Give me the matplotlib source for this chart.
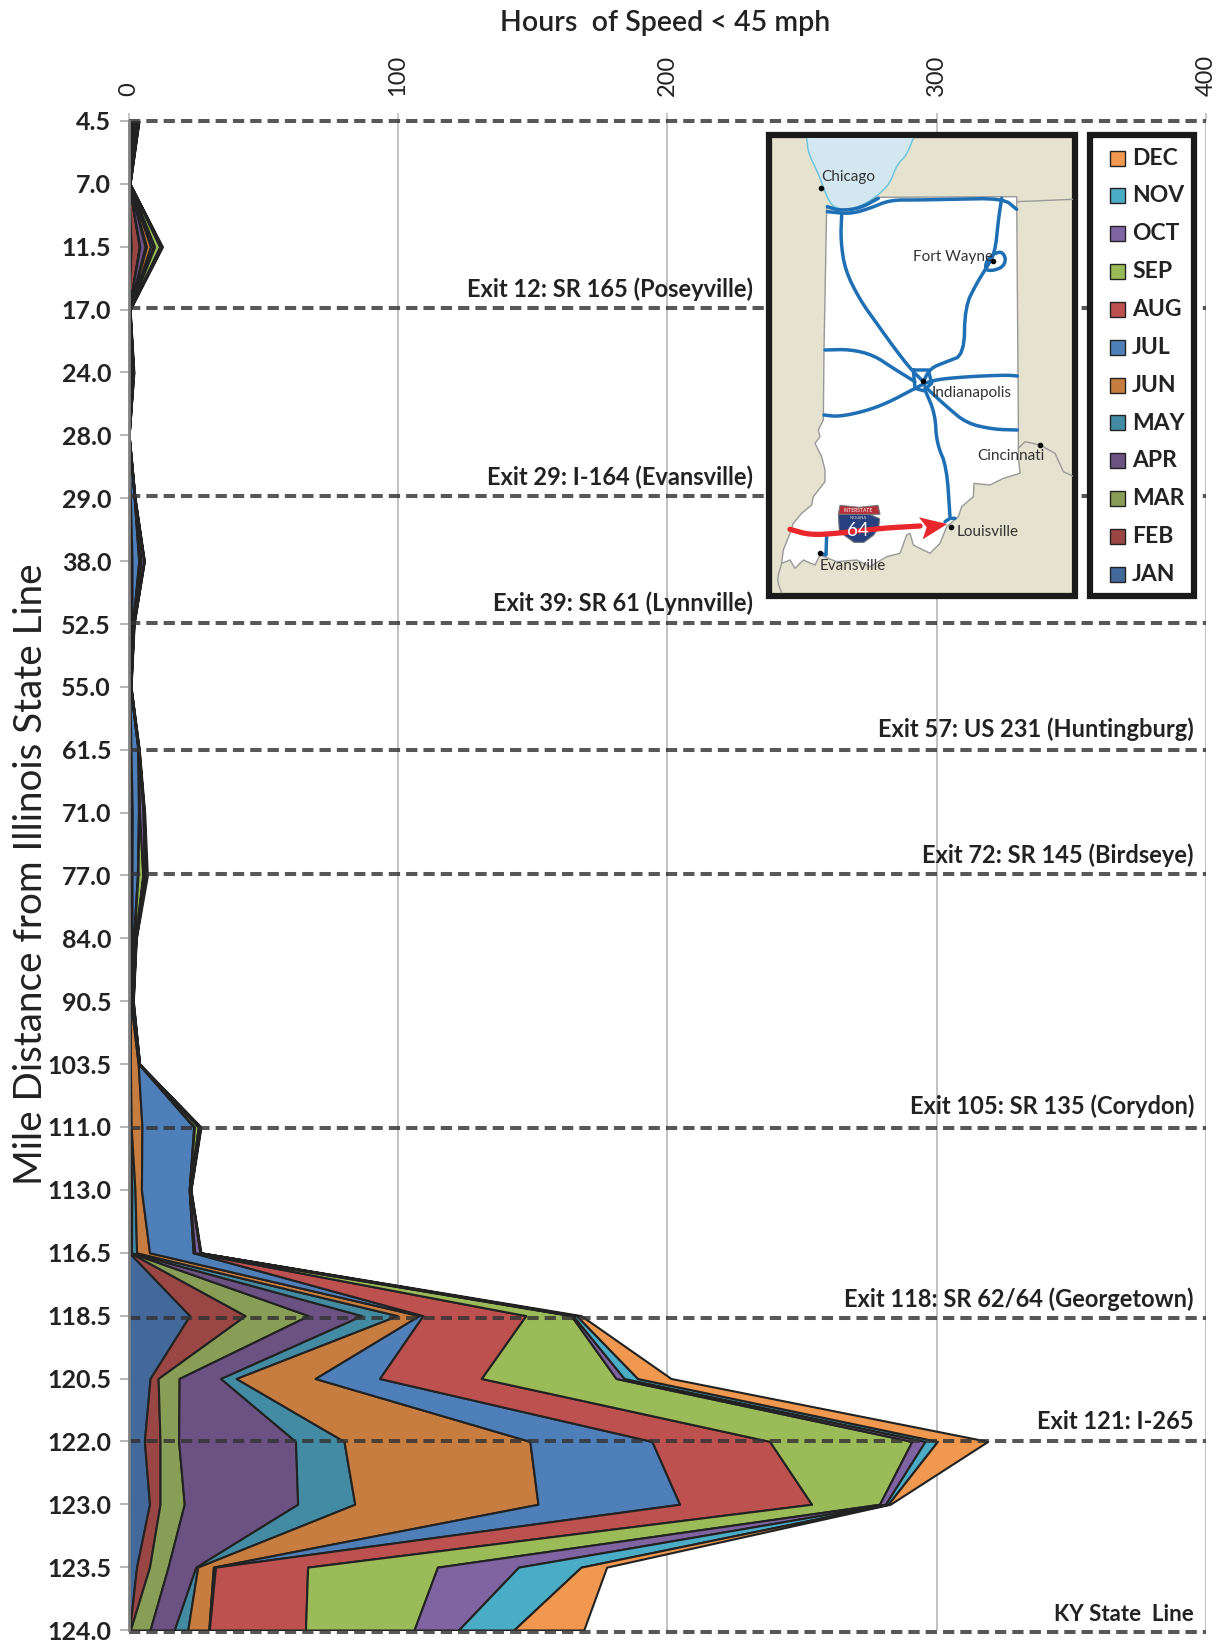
import matplotlib
matplotlib.use("Agg")
import matplotlib.pyplot as plt
from matplotlib.patches import Rectangle, Polygon

miles = ["4.5", "7.0", "11.5", "17.0", "24.0", "28.0", "29.0", "38.0", "52.5", "55.0", "61.5", "71.0", "77.0",
         "84.0", "90.5", "103.5", "111.0", "113.0", "116.5", "118.5", "120.5", "122.0", "123.0", "123.5", "124.0"]
months = ["JAN", "FEB", "MAR", "APR", "MAY", "JUN", "JUL", "AUG", "SEP", "OCT", "NOV", "DEC"]
colors = ["#43689A", "#9A4644", "#889D55", "#6C5283", "#438BA3", "#C77D3F",
          "#4F7FB8", "#BC5150", "#9BBB59", "#8064A2", "#4BACC6", "#F0984F"]

jan = [1.2, .05, 1, .05, .2, .02, .2, .3, .2, .1, .3, .4, .3, .3, .2, .2, .2, .3, .3, 22.7, 8, 5.9, 7.8, 3, .4]
feb = [.5, .05, 3, .05, .2, .02, .1, .3, .5, .1, .2, .3, .3, .3, .2, .2, .2, .3, .3, 20.6, 3, 5.8, 3.9, 4.8, .3]
mar = [.4, .05, .2, .05, .1, .02, .1, .2, .2, .1, .1, .2, .2, .2, .1, .1, .2, .3, .2, 23.5, 7.8, 6.9, 9, 6.9, 7.3]
apr = [.3, .05, 2, .05, .2, .02, .1, .2, .2, .1, .1, .2, .2, .2, .1, .1, .2, .3, .3, 19.8, 15.4, 43.4, 42.1, 10.3, 9]
may = [.2, .05, .5, .05, .1, .02, .1, .1, .1, .05, .1, .1, .1, .1, .1, .1, .2, 1.2, 1.9, 13.2, 5.8, 18, 21.2, .7, 5]
jun = [.2, .05, 1.5, .05, .1, .02, .1, .2, .1, .05, .1, .2, .2, .2, .1, 2.9, 4, 2.4, 4.8, 8.1, 29.3, 69, 68, 5.8, 7.8]
jul = [.3, .05, 1, .05, .6, .02, 1.4, 2.5, .3, .2, 2.6, 2.3, 2, .6, .4, .2, 19.2, 17.7, 16.2, 1.4, 23.9, 45.3, 52.6, .8, .2]
aug = [.2, .05, .5, .05, .1, .02, .1, .3, .1, .05, .1, .2, .2, .2, .1, .1, .3, .1, .3, 38.2, 37.8, 43.7, 49, 34.2, 35.7]
sep = [.2, .05, 1.9, .05, .1, .02, .1, .6, .1, .05, .1, .2, 1.8, .4, .1, .1, 1.4, .1, .3, 16.8, 50, 52.8, 25.2, 48.2, 40.3]
oct_ = [.1, .05, .4, .05, .1, .02, .05, 1, .1, .05, .1, 1.3, .6, .2, .1, .05, .5, .3, 1.9, .7, 3, 4.9, 2.2, 30.1, 16.5]
nov = [.2, .05, .3, .05, .1, .02, .05, .1, .1, .05, .1, .4, .6, .1, .2, .05, .3, .1, .2, 1.3, 5, 4.6, 1, 23.2, 20.5]
dec = [.1, .05, .3, .05, .1, .02, .05, .1, .1, .05, .1, .2, .5, .1, .1, .05, .2, .1, .2, 1.7, 12.4, 18.7, .8, 9.5, 26]
series = [jan, feb, mar, apr, may, jun, jul, aug, sep, oct_, nov, dec]

exit_miles = ["17.0", "29.0", "52.5", "61.5", "77.0", "111.0", "118.5", "122.0"]
exit_names = ["Exit 12: SR 165 (Poseyville)", "Exit 29: I-164 (Evansville)", "Exit 39: SR 61 (Lynnville)",
              "Exit 57: US 231 (Huntingburg)", "Exit 72: SR 145 (Birdseye)", "Exit 105: SR 135 (Corydon)",
              "Exit 118: SR 62/64 (Georgetown)", "Exit 121: I-265"]
dash_miles = ["4.5", "17.0", "29.0", "52.5", "61.5", "77.0", "111.0", "118.5", "122.0", "124.0"]
dash_shift = [0, -.03, -.03, -.02, 0, -.03, .02, .04, 0, .03]

plt.rcParams['font.family'] = ['Lato', 'DejaVu Sans']
W, H = 1225, 1642
fig = plt.figure(figsize=(W / 100, H / 100), dpi=100)
ax = fig.add_axes([128.5 / W, 1 - 1630 / H, (1206 - 128.5) / W, (1630 - 121) / H])

pos = list(range(len(miles)))
base = [0] * len(miles)
for vals, col in zip(series, colors):
    top = [b + v for b, v in zip(base, vals)]
    ax.fill_betweenx(pos, base, top, facecolor=col, edgecolor="#222222", linewidth=1.5, zorder=3)
    base = top

ax.set_xlim(0, 400)
ax.set_ylim(len(miles) - 1, 0)
ax.set_yticks(pos)
ax.set_yticklabels(miles, fontsize=18, fontweight="bold", color="#222222")
ax.set_xticks([0, 100, 200, 300, 400])
ax.xaxis.tick_top()
ax.set_xticklabels(["0", "100", "200", "300", "400"], rotation=90, fontsize=17, color="#222222")
ax.tick_params(axis="y", length=6.5, width=1.2, color="#aaaaaa", pad=6)
ax.tick_params(axis="x", length=6, width=1.2, color="#bdbdbd", pad=12)
ax.grid(axis="x", color="#bdbdbd", linewidth=1.3, zorder=1)
ax.set_axisbelow(True)
for s in ["top", "bottom", "right"]:
    ax.spines[s].set_visible(False)
ax.spines["left"].set_color("#808080")
ax.spines["left"].set_linewidth(2)
ax.spines["left"].set_zorder(5)

for m, shift in zip(dash_miles, dash_shift):
    ax.plot([0, 400], [miles.index(m) + shift] * 2, color="#333333", alpha=0.82, linewidth=2.9,
            dashes=(2.8, 1.5), zorder=4, clip_on=False)

for m, name in zip(exit_miles, exit_names):
    x = 232 if miles.index(m) < 9 else 395.5
    lift = 0.07 if m == "118.5" else 0.14
    ax.text(x, miles.index(m) - lift, name, ha="right", va="bottom", fontsize=17, fontweight="bold",
            color="#222222", zorder=6)
ax.text(395.5, miles.index("124.0") - 0.08, "KY State  Line", ha="right", va="bottom", fontsize=16,
        fontweight="bold", color="#222222", zorder=6)

fig.text(665 / W, 1 - 23 / H, "Hours  of Speed < 45 mph", ha="center", va="center", fontsize=20.5, color="#222222",
         fontweight="semibold")
fig.text(31 / W, 1 - 874 / H, "Mile Distance from Illinois State Line", rotation=90, ha="center", va="center",
         fontsize=27.8, color="#222222")

# overlay in pixels for the map and the legend, map points read in 3x crop units
ov = fig.add_axes([0, 0, 1, 1], zorder=10)
ov.set_xlim(0, W)
ov.set_ylim(H, 0)
ov.axis("off")


def mp(points):
    return [(750 + x / 3, 120 + y / 3) for x, y in points]


def smooth(points, n=2):
    for _ in range(n):
        out = [points[0]]
        for a, b in zip(points[:-1], points[1:]):
            out.append((a[0] * .75 + b[0] * .25, a[1] * .75 + b[1] * .25))
            out.append((a[0] * .25 + b[0] * .75, a[1] * .25 + b[1] * .75))
        out.append(points[-1])
        points = out
    return points


def road(points, color="#1F6FB5", lw=2.5, rounded=True):
    xy = mp(smooth(points) if rounded else points)
    ov.plot([p[0] for p in xy], [p[1] for p in xy], color=color, linewidth=lw, solid_joinstyle="round",
            solid_capstyle="round")


ov.add_patch(Rectangle((769, 135), 306, 461, facecolor="#E5E2CF", edgecolor="#1a1a1a", linewidth=4.5, zorder=0.5))
ov.add_patch(Rectangle((1090, 135), 104, 461, facecolor="white", edgecolor="#1a1a1a", linewidth=4.5, zorder=0.5))

lake = [(170, 54), (175, 100), (205, 160), (230, 230), (250, 262), (290, 270), (340, 255), (385, 225), (420, 190),
        (440, 135), (470, 105), (490, 54)]
ov.add_patch(Polygon(mp(smooth(lake)), closed=False, facecolor="#D3E7F0", edgecolor="#6FC5DD", linewidth=1.1))
state = [(230, 265), (290, 272), (340, 257), (380, 232), (800, 230), (805, 900), (805, 1010), (810, 1060), (760, 1075),
         (720, 1095), (672, 1090), (670, 1130), (635, 1160), (625, 1190), (590, 1220), (570, 1270), (540, 1300),
         (490, 1275), (480, 1240), (470, 1245), (450, 1300), (410, 1310), (360, 1340), (320, 1320), (260, 1325),
         (210, 1305), (195, 1335), (160, 1320), (135, 1345), (120, 1320), (95, 1330), (100, 1290), (120, 1240),
         (130, 1210), (155, 1180), (185, 1155), (190, 1130), (225, 1085), (225, 1050), (215, 1010), (195, 970),
         (210, 950), (205, 930), (220, 900), (222, 690)]
ov.add_patch(Polygon(mp(state), closed=True, facecolor="white", edgecolor="#999999", linewidth=1))
road([(800, 245), (968, 238)], "#999999", 1, False)
road([(805, 985), (825, 965), (870, 975), (915, 1000), (940, 1055), (968, 1068)], "#999999", 1, False)
road([(95, 1330), (80, 1380), (95, 1418)], "#999999", 1)

road([(232, 275), (300, 282), (360, 265), (420, 240), (500, 240), (600, 238), (760, 235), (800, 268)])
road([(232, 260), (270, 272), (330, 265), (385, 235)])
road([(275, 285), (272, 360), (285, 450), (330, 540), (380, 610), (430, 680), (480, 745), (520, 785)])
road([(755, 235), (745, 300), (735, 400), (705, 450), (680, 490), (645, 560), (642, 705), (590, 725), (540, 745),
      (520, 785)])
road([(735, 400), (755, 395), (768, 415), (760, 440), (730, 452), (705, 450), (710, 420), (735, 400)])
road([(225, 690), (300, 688), (370, 705), (430, 745), (495, 785)])
road([(222, 885), (265, 890), (340, 875), (410, 850), (495, 805), (545, 780), (650, 770), (770, 765), (802, 768)])
road([(525, 800), (590, 860), (650, 910), (730, 928), (802, 930)])
road([(525, 810), (555, 880), (560, 970), (590, 1040), (600, 1190)])
road([(490, 750), (535, 750), (545, 790), (520, 812), (495, 805), (490, 750)], rounded=False)
road([(585, 1205), (600, 1195), (615, 1195)], rounded=False)
road([(230, 1245), (228, 1305), (210, 1300)], rounded=False)
road([(120, 1228), (180, 1245), (265, 1240), (390, 1225), (510, 1218)], "#E8262B", 3.8)
ov.add_patch(Polygon(mp([(507, 1192), (592, 1212), (518, 1258), (530, 1222)]), facecolor="#E8262B", edgecolor="none"))
ov.add_patch(Polygon(mp(smooth([(265, 1183), (390, 1183), (385, 1235), (327, 1278), (268, 1235)], 1) + [(265, 1183)]),
                     facecolor="#27407F", edgecolor="#777777", linewidth=0.8))
ov.add_patch(Polygon(mp([(270, 1156), (327, 1162), (384, 1156), (390, 1183), (265, 1183)]), facecolor="#B5313A",
                     edgecolor="#777777", linewidth=0.8))
ov.text(750 + 323 / 3, 120 + 1233 / 3, "64", color="white", fontsize=13.5, ha="center", va="center")
ov.text(750 + 325 / 3, 120 + 1172 / 3, "INTERSTATE", color="white", fontsize=3.6, ha="center", va="center")
ov.text(750 + 325 / 3, 120 + 1194 / 3, "INDIANA", color="#cccccc", fontsize=3, ha="center", va="center")

for name, tx, ty, dx, dy in [("Chicago", 215, 172, 212, 205), ("Fort Wayne", 488, 410, 730, 422),
                             ("Indianapolis", 545, 818, 518, 782), ("Cincinnati", 682, 1008, 870, 975),
                             ("Louisville", 620, 1235, 602, 1222), ("Evansville", 208, 1338, 211, 1298)]:
    ov.text(750 + tx / 3, 120 + ty / 3, name, fontsize=11, color="#333333", ha="left", va="center")
    ov.plot([750 + dx / 3], [120 + dy / 3], "o", color="black", markersize=3)

for i, (m, col) in enumerate(zip(months[::-1], colors[::-1])):
    cy = 121.5 + (110 + 113.5 * i) / 3
    ov.add_patch(Rectangle((1110, cy - 7.5), 15, 15, facecolor=col, edgecolor="#222222", linewidth=1))
    ov.text(1132, cy, m, fontsize=16.5, fontweight="bold", color="#222222", ha="left", va="center")

fig.savefig("out.png", dpi=100)
